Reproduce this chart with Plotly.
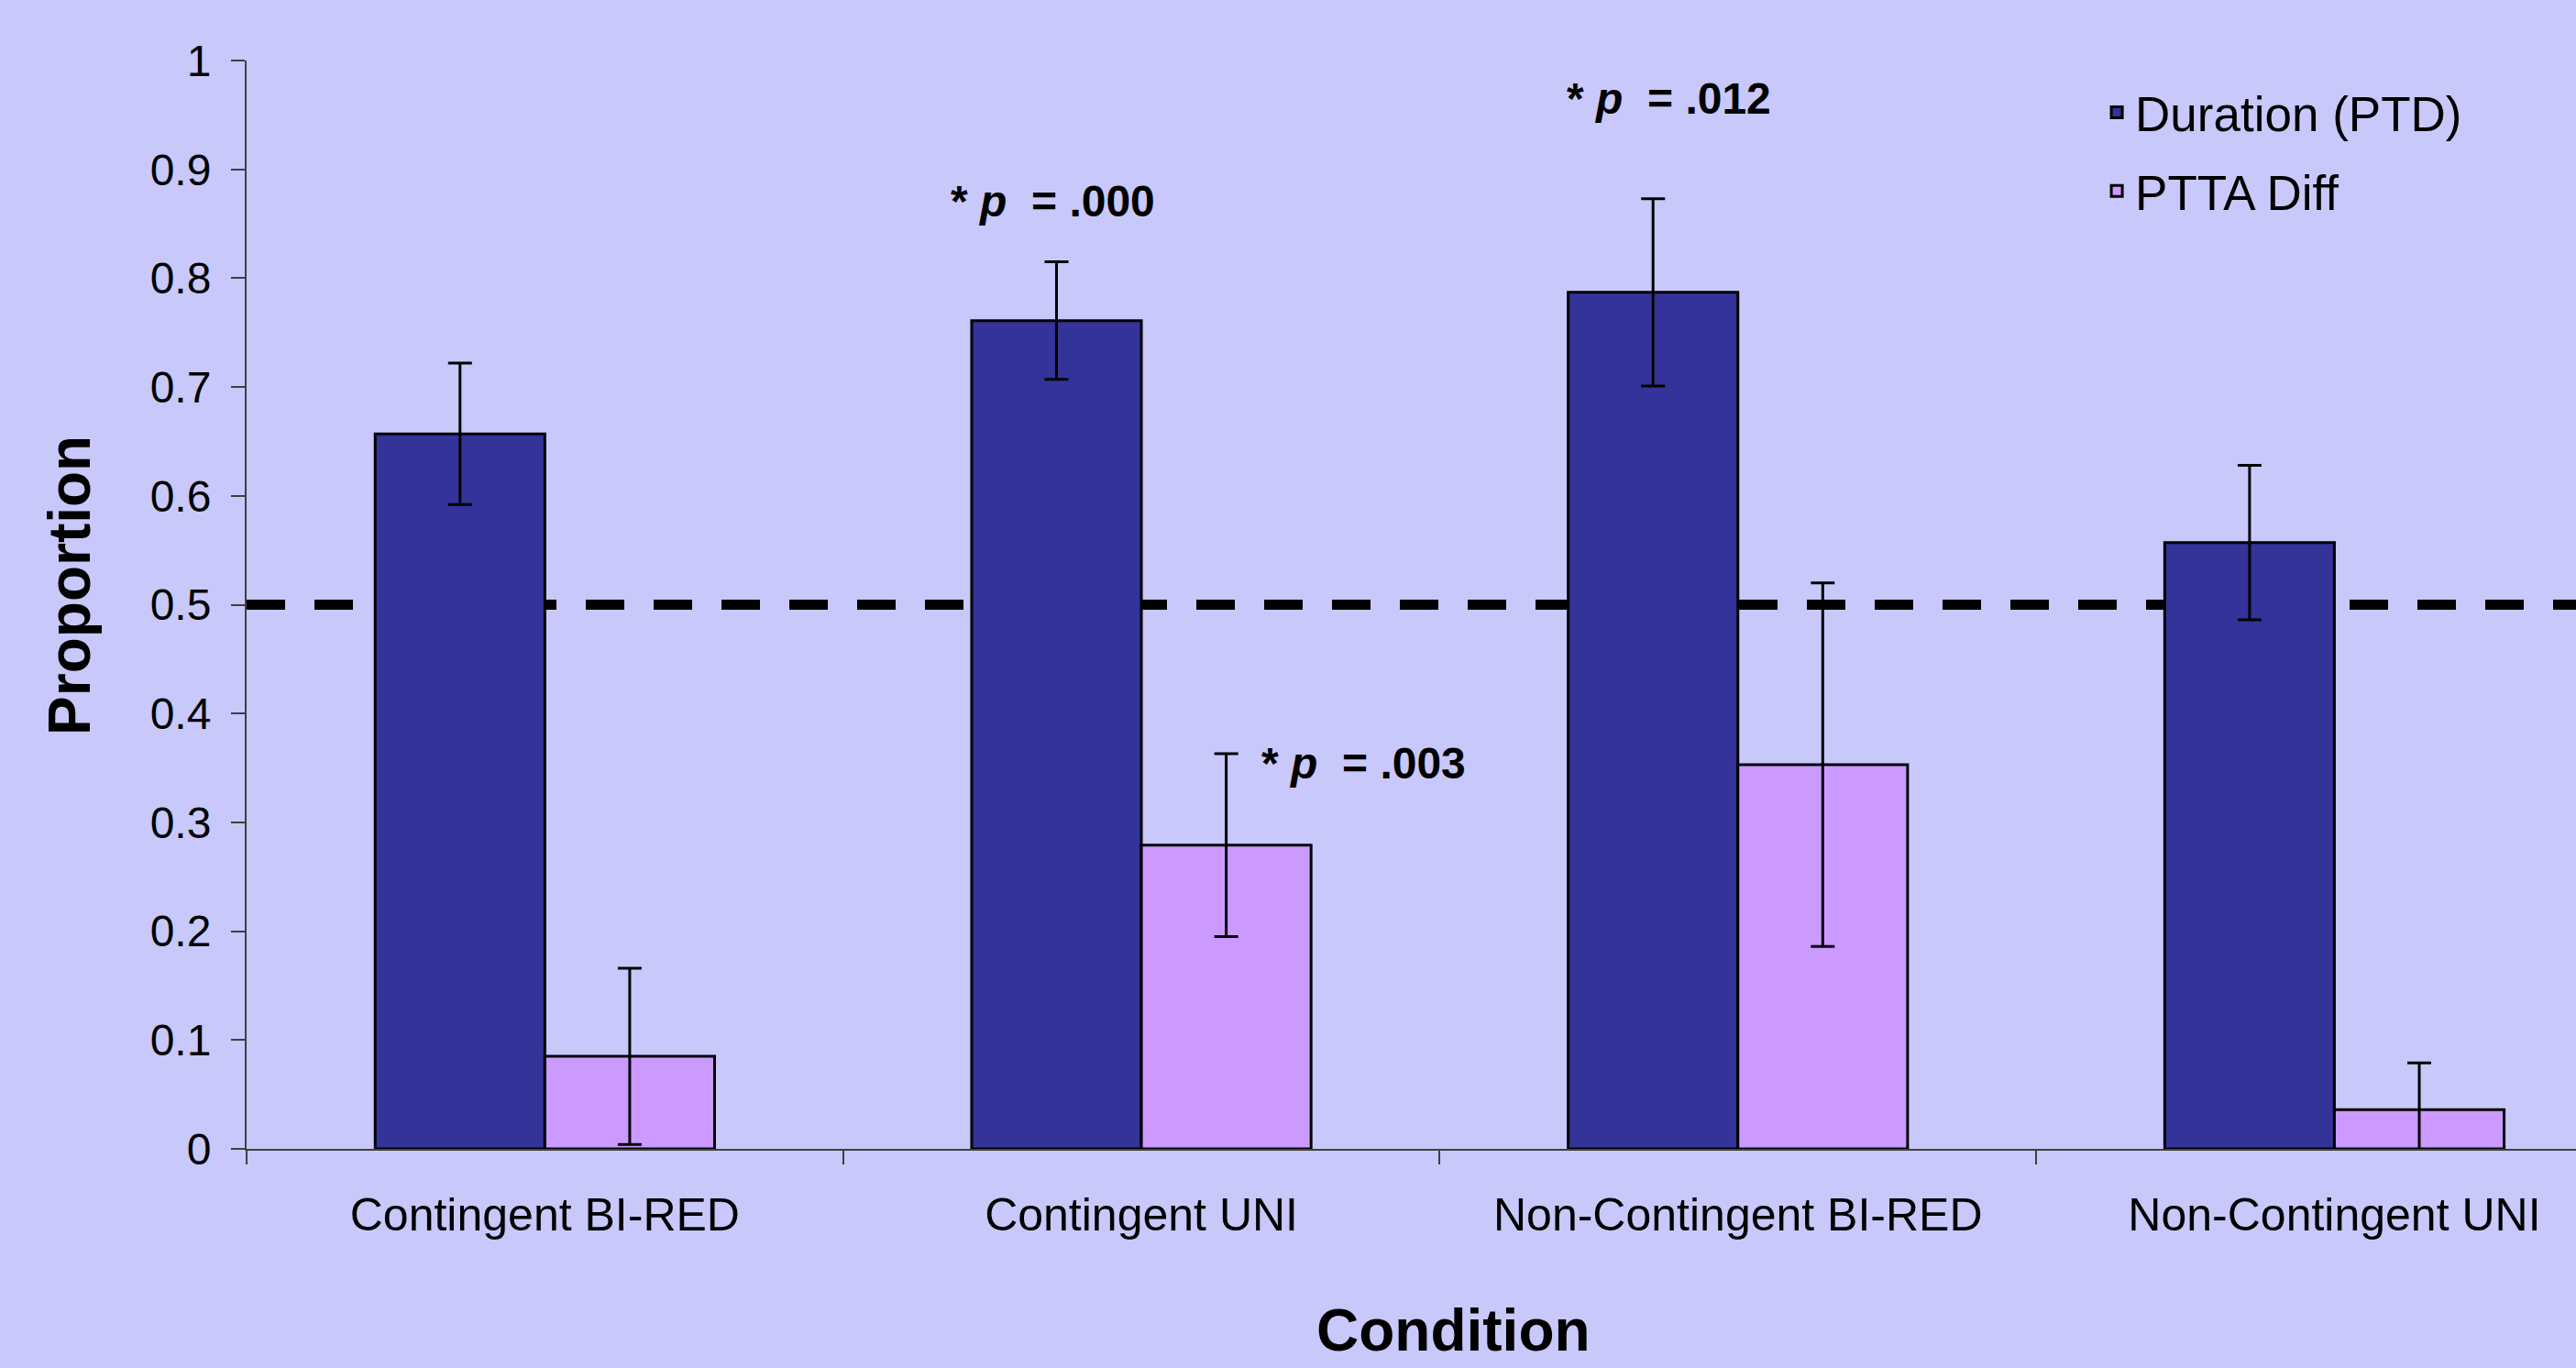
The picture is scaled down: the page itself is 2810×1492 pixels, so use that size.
import plotly.graph_objects as go

categories = ["Contingent BI-RED", "Contingent UNI", "Non-Contingent BI-RED", "Non-Contingent UNI"]
duration = [0.657, 0.761, 0.787, 0.557]
duration_err = [0.065, 0.054, 0.086, 0.071]
ptta = [0.085, 0.279, 0.353, 0.036]
ptta_err = [0.081, 0.084, 0.167, 0.043]
y_ticks = [0, 0.1, 0.2, 0.3, 0.4, 0.5, 0.6, 0.7, 0.8, 0.9, 1]
y_ticktext = ["0", "0.1", "0.2", "0.3", "0.4", "0.5", "0.6", "0.7", "0.8", "0.9", "1"]
chance_level = 0.5
p_labels = ["* <i>p</i>  = .000", "* <i>p</i>  = .012", "* <i>p</i>  = .003"]

FONT = "Liberation Sans, Arial, sans-serif"
BG = "#C8C8FA"

fig = go.Figure()
fig.add_trace(go.Bar(
    name="Duration (PTD)", x=categories, y=duration,
    marker=dict(color="#333399", line=dict(color="black", width=3)),
    error_y=dict(type="data", array=duration_err, visible=True, color="black", thickness=3, width=13),
    legendgroup="a",
))
fig.add_trace(go.Bar(
    name="PTTA Diff", x=categories, y=ptta,
    marker=dict(color="#CC99FF", line=dict(color="black", width=3)),
    error_y=dict(type="data", array=ptta_err, visible=True, color="black", thickness=3, width=13),
    legendgroup="b",
))

fig.add_shape(type="line", xref="paper", yref="y", x0=0, x1=1, y0=chance_level, y1=chance_level,
              line=dict(color="black", width=11, dash="42px,32px"), layer="below")

ann_pos = [(0.852, 0.871), (1.885, 0.965), (1.372, 0.354)]
for (ax, ay), txt in zip(ann_pos, p_labels):
    fig.add_annotation(x=ax, y=ay, xref="x", yref="y", text="<b>" + txt + "</b>", showarrow=False,
                       font=dict(family=FONT, size=48, color="black"))

fig.add_annotation(x=0.518, y=-0.199, xref="paper", yref="paper", text="<b>Condition</b>",
                   showarrow=False, font=dict(family=FONT, size=64, color="black"))
fig.add_annotation(x=-0.091, y=0.518, xref="paper", yref="paper", text="<b>Proportion</b>",
                   textangle=-90, showarrow=False, font=dict(family=FONT, size=64, color="black"))

fig.update_layout(
    width=2810, height=1492,
    margin=dict(l=269, r=0, t=66, b=239),
    paper_bgcolor=BG, plot_bgcolor=BG,
    barmode="group", bargap=0.431, bargroupgap=0,
    font=dict(family=FONT, color="black"),
    legend=dict(x=0.795, y=0.987, xanchor="left", yanchor="top", bgcolor="rgba(0,0,0,0)",
                font=dict(family=FONT, size=53), tracegroupgap=14),
    showlegend=True,
)
fig.update_xaxes(range=[-0.5, 3.405], showline=True, linecolor="#404040", linewidth=2,
                 ticks="outside", tickson="boundaries", ticklen=15, tickcolor="#404040", tickwidth=2,
                 tickfont=dict(family=FONT, size=50), showgrid=False, zeroline=False,
                 ticklabelstandoff=27)
fig.update_yaxes(range=[0, 1], tickvals=y_ticks, ticktext=y_ticktext, showline=True,
                 linecolor="#404040", linewidth=2, ticks="outside", ticklen=15, tickcolor="#404040",
                 tickwidth=2, tickfont=dict(family=FONT, size=48), showgrid=False, zeroline=False,
                 ticklabelstandoff=12)

fig.write_html("out.html", config={"displayModeBar": False},
               post_script="document.body.style.margin='0';document.body.style.overflow='hidden';")
